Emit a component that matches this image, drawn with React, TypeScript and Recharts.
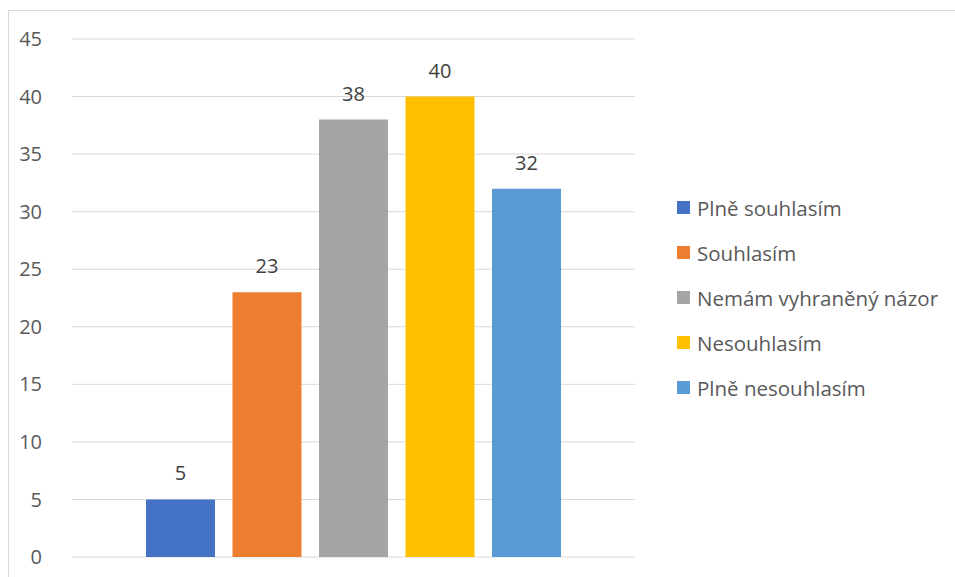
import React from "react";
import { BarChart, Bar, XAxis, YAxis, CartesianGrid, LabelList } from "recharts";

const categories = ["Plně souhlasím", "Souhlasím", "Nemám vyhraněný názor", "Nesouhlasím", "Plně nesouhlasím"];
const values = [5, 23, 38, 40, 32];
const colors = ["#4472C4", "#ED7D31", "#A5A5A5", "#FFC000", "#5B9BD5"];
const yTicks = [0, 5, 10, 15, 20, 25, 30, 35, 40, 45];

const row: Record<string, any> = { name: "" };
categories.forEach((c, i) => {
  row["s" + i] = values[i];
});
const data = [row];

const FONT = "'Open Sans', 'Noto Sans', sans-serif";

export default function App() {
  return (
    <div
      style={{
        position: "fixed",
        left: 8,
        top: 10,
        width: 946,
        height: 566,
        overflow: "hidden",
        borderLeft: "1px solid #d9d9d9",
        borderTop: "1px solid #d9d9d9",
        fontFamily: FONT,
        background: "#fff",
      }}
    >
      <BarChart
        width={946}
        height={566}
        data={data}
        margin={{ top: 28, right: 320, bottom: 20, left: 0 }}
        barSize={69}
        barGap={17.5}
      >
        <CartesianGrid vertical={false} stroke="#d9d9d9" strokeWidth={1} />
        <XAxis dataKey="name" hide />
        <YAxis
          width={63}
          domain={[0, 45]}
          ticks={yTicks}
          interval={0}
          axisLine={false}
          tickLine={false}
          tickSize={0}
          tickMargin={30}
          tick={{ fill: "#595959", fontSize: 20, fontFamily: FONT }}
        />
        {categories.map((c, i) => (
          <Bar key={c} dataKey={"s" + i} name={c} fill={colors[i]} isAnimationActive={false}>
            <LabelList
              dataKey={"s" + i}
              position="top"
              offset={19}
              style={{ fill: "#404040", fontSize: 20, fontFamily: FONT }}
            />
          </Bar>
        ))}
      </BarChart>
      <div style={{ position: "absolute", left: 668, top: 174 }}>
        {categories.map((c, i) => (
          <div key={c} style={{ height: 45, display: "flex", alignItems: "center" }}>
            <span style={{ width: 13, height: 13, background: colors[i], display: "inline-block", marginRight: 7, flexShrink: 0 }} />
            <span style={{ color: "#595959", fontSize: 20.5, whiteSpace: "nowrap" }}>{c}</span>
          </div>
        ))}
      </div>
    </div>
  );
}
